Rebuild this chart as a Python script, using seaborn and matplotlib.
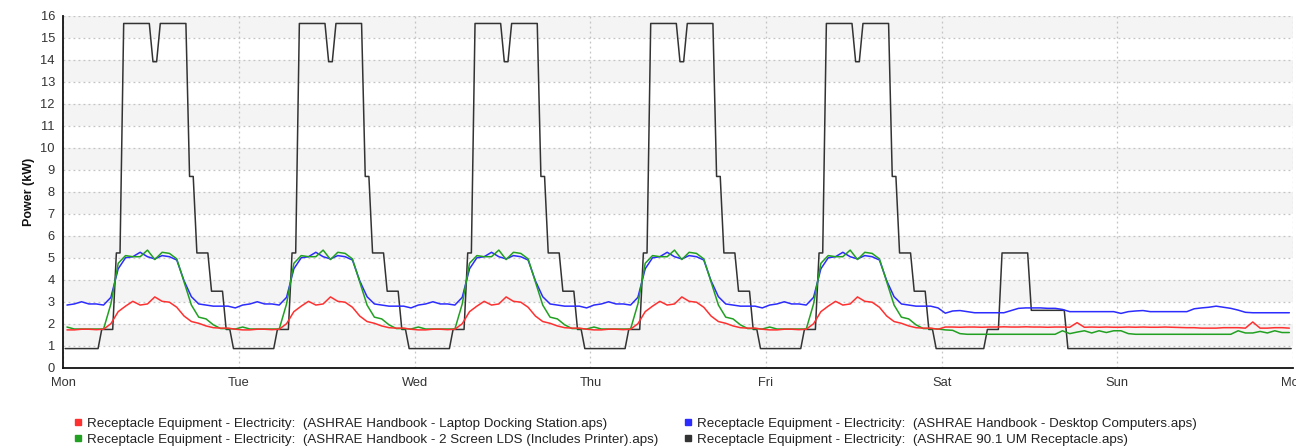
import numpy as np
import pandas as pd
import matplotlib
matplotlib.use("Agg")
import matplotlib.pyplot as plt
from matplotlib.lines import Line2D
import seaborn as sns

# Day labels along the week (hour 0 = Monday 00:00)
day_labels = ["Mon", "Tue", "Wed", "Thu", "Fri", "Sat", "Sun", "Mon"]

# Hourly power, kW (index = hour of day 0..23)
laptop_weekday = [1.72, 1.72, 1.75, 1.75, 1.73, 1.75, 2.00, 2.55, 2.80, 3.02, 2.85, 2.90,
                  3.22, 3.02, 2.98, 2.75, 2.35, 2.10, 2.02, 1.90, 1.82, 1.80, 1.80, 1.75]
laptop_saturday = [1.85, 1.85, 1.84, 1.85, 1.85, 1.84, 1.85, 1.85, 1.86, 1.85, 1.85, 1.86,
                   1.85, 1.85, 1.84, 1.85, 1.85, 1.84, 2.05, 1.84, 1.85, 1.84, 1.85, 1.84]
laptop_sunday = [1.84, 1.85, 1.84, 1.85, 1.84, 1.84, 1.85, 1.84, 1.83, 1.82, 1.82, 1.80,
                 1.80, 1.80, 1.82, 1.82, 1.82, 1.80, 2.08, 1.80, 1.80, 1.82, 1.82, 1.80]

lds_weekday = [1.85, 1.76, 1.76, 1.76, 1.76, 1.76, 2.90, 4.75, 5.10, 5.05, 5.05, 5.35,
               4.92, 5.25, 5.20, 4.95, 3.90, 2.85, 2.30, 2.22, 1.95, 1.78, 1.78, 1.76]
lds_saturday = [1.72, 1.70, 1.55, 1.52, 1.52, 1.52, 1.52, 1.52, 1.52, 1.52, 1.52, 1.52,
                1.52, 1.52, 1.52, 1.52, 1.68, 1.55, 1.62, 1.68, 1.58, 1.68, 1.60, 1.68]
lds_sunday = [1.68, 1.55, 1.52, 1.52, 1.52, 1.52, 1.52, 1.52, 1.52, 1.52, 1.52, 1.52,
              1.52, 1.52, 1.52, 1.52, 1.68, 1.58, 1.58, 1.65, 1.58, 1.68, 1.60, 1.60]

desktop_weekday = [2.85, 2.90, 3.00, 2.90, 2.90, 2.85, 3.20, 4.50, 5.00, 5.05, 5.25, 5.05,
                   4.95, 5.10, 5.05, 4.90, 3.95, 3.23, 2.90, 2.85, 2.80, 2.80, 2.80, 2.72]
desktop_saturday = [2.48, 2.58, 2.60, 2.55, 2.50, 2.50, 2.50, 2.50, 2.50, 2.60, 2.70, 2.72,
                    2.72, 2.72, 2.70, 2.70, 2.65, 2.55, 2.55, 2.55, 2.55, 2.55, 2.55, 2.55]
desktop_sunday = [2.47, 2.55, 2.58, 2.60, 2.55, 2.55, 2.55, 2.55, 2.55, 2.55, 2.68, 2.72,
                  2.75, 2.80, 2.75, 2.70, 2.62, 2.52, 2.50, 2.50, 2.50, 2.50, 2.50, 2.50]

um_weekday = [0.87, 0.87, 0.87, 0.87, 0.87, 1.74, 1.74, 5.22, 15.66, 15.66, 15.66, 15.66,
              13.92, 15.66, 15.66, 15.66, 15.66, 8.70, 5.22, 5.22, 3.48, 3.48, 1.74, 0.87]
um_saturday = [0.87, 0.87, 0.87, 0.87, 0.87, 0.87, 1.74, 1.74, 5.22, 5.22, 5.22, 5.22,
               2.61, 2.61, 2.61, 2.61, 2.61, 0.87, 0.87, 0.87, 0.87, 0.87, 0.87, 0.87]
um_sunday = [0.87] * 24

series_names = [
    "Receptacle Equipment - Electricity:  (ASHRAE Handbook - Laptop Docking Station.aps)",
    "Receptacle Equipment - Electricity:  (ASHRAE Handbook - 2 Screen LDS (Includes Printer).aps)",
    "Receptacle Equipment - Electricity:  (ASHRAE Handbook - Desktop Computers.aps)",
    "Receptacle Equipment - Electricity:  (ASHRAE 90.1 UM Receptacle.aps)",
]
series_colors = ["#ff3030", "#22a022", "#2c2cff", "#333333"]


def week(weekday, saturday, sunday):
    return np.array(list(weekday) * 5 + list(saturday) + list(sunday), dtype=float)


hours = np.arange(24 * 7)
frames = []
# Metered profiles: one sample per hour, drawn at the middle of the hour
for name, (wd, sa, su) in zip(series_names[:3], [
        (laptop_weekday, laptop_saturday, laptop_sunday),
        (lds_weekday, lds_saturday, lds_sunday),
        (desktop_weekday, desktop_saturday, desktop_sunday)]):
    frames.append(pd.DataFrame({"hour": hours + 0.5, "kw": week(wd, sa, su), "series": name}))
# Schedule-driven profile: each hourly value holds across its half-hour timesteps
um = week(um_weekday, um_saturday, um_sunday)
frames.append(pd.DataFrame({"hour": np.repeat(hours, 2) + np.tile([0.25, 0.75], len(hours)),
                            "kw": np.repeat(um, 2), "series": series_names[3]}))
df = pd.concat(frames, ignore_index=True)

sns.set_theme(style="white")
plt.rcParams["font.family"] = ["Liberation Sans", "DejaVu Sans"]

W, H = 1296, 448
fig = plt.figure(figsize=(W / 100, H / 100), dpi=100)
ax = fig.add_axes([63.3 / W, 1 - 367.7 / H, (1293 - 63.3) / W, (367.7 - 16) / H])

# alternating light bands behind the grid
for k in range(1, 16, 2):
    ax.axhspan(k, k + 1, color="#f4f4f4", zorder=0, lw=0)

draw_order = [series_names[3], series_names[2], series_names[1], series_names[0]]
palette = dict(zip(series_names, series_colors))
sns.lineplot(data=df, x="hour", y="kw", hue="series", hue_order=draw_order,
             palette=palette, estimator=None, sort=True, linewidth=1.1,
             legend=False, ax=ax, zorder=3)

ax.set_xlim(0, 168)
ax.set_ylim(0, 16)
ax.set_xticks(np.arange(0, 169, 24))
ax.set_xticklabels(day_labels)
ax.set_yticks(np.arange(0, 17, 1))
ax.set_xlabel("")
ax.set_ylabel("Power (kW)", fontsize=9, fontweight="bold", labelpad=4, color="#111111")

ax.grid(True, which="major", axis="both", color="#c4c4c4", linestyle=(0, (1.5, 2.5)),
        linewidth=0.9, zorder=1)
ax.set_axisbelow(True)
for side in ["top", "right"]:
    ax.spines[side].set_visible(False)
for side in ["left", "bottom"]:
    ax.spines[side].set_color("#111111")
    ax.spines[side].set_linewidth(1.3)
ax.tick_params(axis="both", which="major", direction="out", length=4, width=1,
               color="#111111", labelsize=9.3, labelcolor="#333333", pad=2)
ax.tick_params(axis="x", pad=3)

handles = [Line2D([], [], marker="s", linestyle="none", color=c, markersize=5)
           for c in series_colors]
fig.legend(handles, series_names, ncol=2, loc="upper left",
           bbox_to_anchor=(66 / W, 1 - 411 / H), frameon=False, fontsize=9.6,
           handletextpad=0.3, columnspacing=1.8, labelspacing=0.25,
           handlelength=0.8, borderpad=0, labelcolor="#222222")

fig.savefig("out.png", dpi=100, facecolor="white")
